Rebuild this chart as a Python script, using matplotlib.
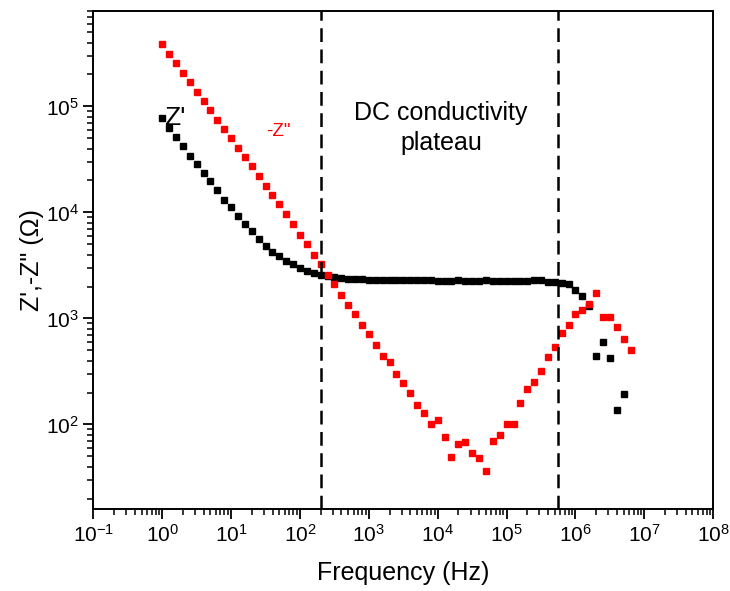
import matplotlib
matplotlib.use('Agg')
import matplotlib.pyplot as plt
from matplotlib.ticker import LogLocator, NullFormatter

plt.rcParams['font.family'] = ['Liberation Sans', 'DejaVu Sans']
plt.rcParams['mathtext.fontset'] = 'custom'
plt.rcParams['mathtext.rm'] = 'Liberation Sans'

# frequency grid (Hz), 10 points per decade
freq = [1.0, 1.26, 1.58, 2.0, 2.51, 3.16, 3.98, 5.01, 6.31, 7.94,
        1.0e1, 1.26e1, 1.58e1, 2.0e1, 2.51e1, 3.16e1, 3.98e1, 5.01e1, 6.31e1, 7.94e1,
        1.0e2, 1.26e2, 1.58e2, 2.0e2, 2.51e2, 3.16e2, 3.98e2, 5.01e2, 6.31e2, 7.94e2,
        1.0e3, 1.26e3, 1.58e3, 2.0e3, 2.51e3, 3.16e3, 3.98e3, 5.01e3, 6.31e3, 7.94e3,
        1.0e4, 1.26e4, 1.58e4, 2.0e4, 2.51e4, 3.16e4, 3.98e4, 5.01e4, 6.31e4, 7.94e4,
        1.0e5, 1.26e5, 1.58e5, 2.0e5, 2.51e5, 3.16e5, 3.98e5, 5.01e5, 6.31e5, 7.94e5,
        1.0e6, 1.26e6, 1.58e6, 2.0e6, 2.51e6, 3.16e6, 3.98e6, 5.01e6, 6.31e6]

# Z' (real part), Ohm
z_real = [7.77e4, 6.26e4, 5.15e4, 4.24e4, 3.38e4, 2.84e4, 2.34e4, 1.99e4, 1.61e4, 1.30e4,
          1.12e4, 9.19e3, 7.84e3, 6.64e3, 5.66e3, 4.86e3, 4.24e3, 3.86e3, 3.49e3, 3.24e3,
          2.96e3, 2.82e3, 2.70e3, 2.57e3, 2.52e3, 2.44e3, 2.41e3, 2.38e3, 2.38e3, 2.34e3,
          2.31e3, 2.31e3, 2.28e3, 2.28e3, 2.28e3, 2.28e3, 2.28e3, 2.28e3, 2.28e3, 2.28e3,
          2.24e3, 2.24e3, 2.24e3, 2.28e3, 2.24e3, 2.24e3, 2.24e3, 2.31e3, 2.26e3, 2.26e3,
          2.26e3, 2.26e3, 2.26e3, 2.26e3, 2.28e3, 2.28e3, 2.23e3, 2.21e3, 2.17e3, 2.09e3,
          1.84e3, 1.62e3, 1.30e3, 440, 606, 428, 138, 192]

# -Z'' (imaginary part), Ohm
z_imag = [3.87e5, 3.14e5, 2.56e5, 2.08e5, 1.70e5, 1.38e5, 1.12e5, 9.25e4, 7.50e4, 6.12e4,
          4.99e4, 4.08e4, 3.33e4, 2.72e4, 2.21e4, 1.79e4, 1.45e4, 1.19e4, 9.59e3, 7.80e3,
          6.18e3, 5.00e3, 4.00e3, 3.24e3, 2.59e3, 2.09e3, 1.68e3, 1.35e3, 1.09e3, 876,
          716, 559, 444, 390, 296, 245, 196, 151, 128, 101,
          111, 75.9, 49.6, 64.8, 68.7, 53.7, 48.2, 36.1, 69.2, 80,
          101.5, 101.5, 160, 214, 249, 316, 437, 535, 736, 863,
          1.09e3, 1.21e3, 1.37e3, 1.72e3, 1.04e3, 1.04e3, 833, 643, 501]

# boundaries of the DC plateau (Hz)
plateau = [204, 5.5e5]

fig = plt.figure(figsize=(7.3, 5.91), dpi=100)
ax = fig.add_axes([0.128, 0.139, 0.849, 0.843])

ax.plot(freq[:len(z_real)], z_real, 's', color='black', markersize=4.5, linestyle='none')
ax.plot(freq[:len(z_imag)], z_imag, 's', color='#ff0000', markersize=4.5, linestyle='none')

for f in plateau:
    ax.axvline(f, color='black', linewidth=1.8, linestyle=(0, (5.5, 3)))

ax.set_xscale('log')
ax.set_yscale('log')
ax.set_xlim(1e-1, 1e8)
ax.set_ylim(16, 8e5)

ax.xaxis.set_major_locator(LogLocator(base=10, numticks=20))
ax.xaxis.set_minor_locator(LogLocator(base=10, subs=range(2, 10), numticks=100))
ax.xaxis.set_minor_formatter(NullFormatter())
ax.yaxis.set_minor_locator(LogLocator(base=10, subs=range(2, 10), numticks=100))
ax.yaxis.set_minor_formatter(NullFormatter())

ax.tick_params(which='major', direction='out', length=7, width=1.3, labelsize=15)
ax.tick_params(which='minor', direction='out', length=4, width=1.1)
for s in ax.spines.values():
    s.set_linewidth(1.4)

ax.set_xlabel('Frequency (Hz)', fontsize=18)
ax.set_ylabel('Z\',-Z" (\u03a9)', fontsize=18)
ax.xaxis.set_label_coords(0.5, -0.105)
ax.yaxis.set_label_coords(-0.08, 0.5)

ax.text(0.131, 0.785, "Z'", transform=ax.transAxes, fontsize=19,
        ha='center', va='center', color='black')
ax.text(0.298, 0.757, '-Z"', transform=ax.transAxes, fontsize=13.5,
        ha='center', va='center', color='#ff0000')
ax.text(0.561, 0.765, 'DC conductivity\nplateau', transform=ax.transAxes,
        fontsize=18, ha='center', va='center', linespacing=1.3)

fig.savefig('out.png', dpi=100)
